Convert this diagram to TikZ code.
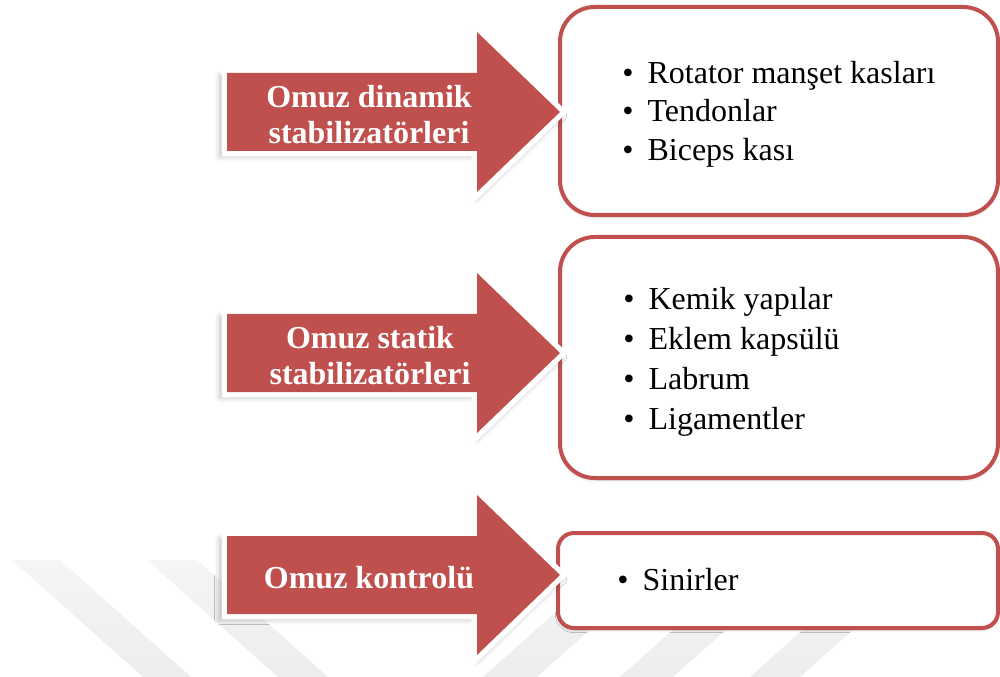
\documentclass[tikz,border=0pt]{standalone}
\usepackage{fontspec}
\setmainfont{Liberation Serif}
\usetikzlibrary{shadows.blur}
\definecolor{accred}{HTML}{C0504D}
\definecolor{wmtop}{HTML}{F5F5F5}
\definecolor{wmbot}{HTML}{EDEDED}
\newcommand{\bitem}[1]{\makebox[19pt][l]{\textbullet}#1}
\begin{document}
\begin{tikzpicture}[x=0.75pt,y=-0.75pt,
  band/.style={top color=wmtop, bottom color=wmbot, draw=none},
  bigarrow/.style={blur shadow={shadow scale=1.025, shadow xshift=-2pt, shadow yshift=-3pt, shadow blur radius=4pt, shadow opacity=30},
    preaction={draw=white, line width=8pt, line join=miter},
    fill=accred},
  infobox/.style={draw=accred, line width=3pt, fill=white, inner sep=0,
    blur shadow={shadow xshift=0pt, shadow yshift=-1.5pt, shadow blur radius=2pt, shadow opacity=20}},
  arrtext/.style={text=white, font=\bfseries\fontsize{24}{27}\selectfont, align=center, inner sep=0},
  listtext/.style={font=\fontsize{24}{29}\selectfont, align=left, anchor=west, inner sep=0}]
\useasboundingbox (0,0) rectangle (1000,677);
% watermark bands
\path[band] (12,560) -- (60,560) -- (191,677) -- (143,677) -- cycle;
\path[band] (147,560) -- (197,560) -- (328,677) -- (278,677) -- cycle;
\path[band] (483,677) -- (537,677) -- (668,560) -- (614,560) -- cycle;
\path[band] (620,677) -- (673,677) -- (804,560) -- (751,560) -- cycle;
\path[band] (750,677) -- (800,677) -- (931,560) -- (881,560) -- cycle;
% boxes
\node[infobox, rounded corners=26pt, minimum width=328.5pt, minimum height=156pt] (b1) at (779,111) {};
\node[infobox, rounded corners=26pt, minimum width=328.5pt, minimum height=180.75pt] (b2) at (779,357.5) {};
\node[infobox, rounded corners=12pt, minimum width=330pt, minimum height=71.25pt] (b3) at (778,580.5) {};
% arrows
\path[bigarrow] (227,112) ++(0,-39) -- ++(250,0) -- ++(0,-41) -- ++(83,80) -- ++(-83,80) -- ++(0,-41) -- ++(-250,0) -- cycle;
\path[bigarrow] (227,353) ++(0,-39) -- ++(250,0) -- ++(0,-41) -- ++(83,80) -- ++(-83,80) -- ++(0,-41) -- ++(-250,0) -- cycle;
\path[bigarrow] (227,575) ++(0,-39) -- ++(250,0) -- ++(0,-41) -- ++(83,80) -- ++(-83,80) -- ++(0,-41) -- ++(-250,0) -- cycle;
% arrow texts
\node[arrtext] (t1) at (369,115) {Omuz dinamik\\stabilizatörleri};
\node[arrtext] (t2) at (370,356) {Omuz statik\\stabilizatörleri};
\node[arrtext] (t3) at (369,578) {Omuz kontrolü};
% list texts
\node[listtext] (l1) at (622,114) {\bitem{Rotator manşet kasları}\\\bitem{Tendonlar}\\\bitem{Biceps kası}};
\node[listtext, font=\fontsize{24}{30}\selectfont] (l2) at (623,362) {\bitem{Kemik yapılar}\\\bitem{Eklem kapsülü}\\\bitem{Labrum}\\\bitem{Ligamentler}};
\node[listtext] (l3) at (617,580) {\bitem{Sinirler}};
\end{tikzpicture}
\end{document}
